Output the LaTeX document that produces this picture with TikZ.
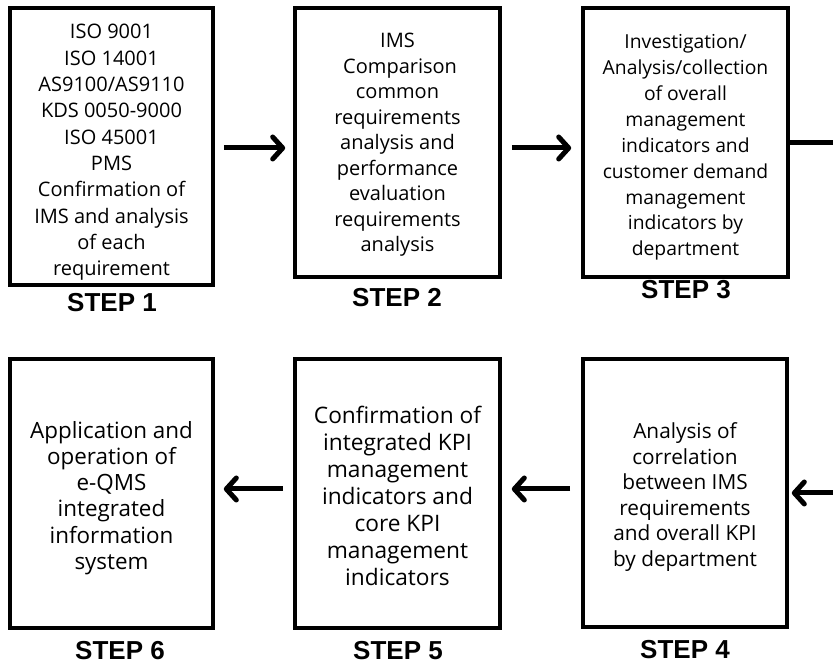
\documentclass[tikz,border=0pt]{standalone}
\usepackage{fontspec}
\setmainfont{Open Sans}
\newfontfamily\stepfont{Liberation Sans}
\usetikzlibrary{arrows.meta,calc}

\tikzset{
  stepbox/.style={draw=black, line width=3.6pt, rectangle, inner sep=0pt, fill=white},
  boxtext/.style={align=center, inner sep=0pt, text=black},
  steplabel/.style={font=\stepfont\bfseries\fontsize{26}{30}\selectfont, inner sep=0pt, text=black},
  flow/.style={line width=5pt, -{Straight Barb[length=10pt,width=22pt,round]}},
  link/.style={line width=5pt}
}

\begin{document}
\begin{tikzpicture}[x=1pt, y=1pt]
\useasboundingbox (0,0) rectangle (833,664);

% boxes of the six steps
\node[stepbox, minimum width=203pt, minimum height=277pt] (s1) at (111.5,517.5) {};
\node[stepbox, minimum width=205pt, minimum height=269pt] (s2) at (397.5,521.5) {};
\node[stepbox, minimum width=205pt, minimum height=269pt] (s3) at (685.5,521.5) {};
\node[stepbox, minimum width=204pt, minimum height=268pt] (s4) at (685,171) {};
\node[stepbox, minimum width=205pt, minimum height=269pt] (s5) at (397.5,170.5) {};
\node[stepbox, minimum width=203pt, minimum height=269pt] (s6) at (111.5,170.5) {};

% box contents
\node[boxtext, font=\fontsize{20}{26.3}\selectfont] (t1) at (111.5,511.5) {ISO 9001\\ISO 14001\\AS9100/AS9110\\KDS 0050-9000\\ISO 45001\\PMS\\Confirmation of\\IMS and analysis\\of each\\requirement};
\node[boxtext, font=\fontsize{20}{25.5}\selectfont] (t2) at (397.5,519) {IMS\\\ Comparison\\common\\requirements\\analysis and\\performance\\evaluation\\requirements\\analysis};
\node[boxtext, font=\fontsize{19.3}{25.9}\selectfont] (t3) at (685.5,516.5) {Investigation/\\Analysis/collection\\of overall\\management\\indicators and\\customer demand\\management\\indicators by\\department};
\node[boxtext, font=\fontsize{20.8}{25.6}\selectfont] (t4) at (685,167) {Analysis of\\correlation\\between IMS\\requirements\\and overall KPI\\by department};
\node[boxtext, font=\fontsize{22.7}{27}\selectfont] (t5) at (397.5,168) {Confirmation of\\integrated KPI\\management\\indicators and\\core KPI\\management\\indicators};
\node[boxtext, font=\fontsize{22.4}{26.2}\selectfont] (t6) at (111.5,166) {Application and\\operation of\\e-QMS\\integrated\\information\\system};

% step captions
\node[steplabel] (l1) at (112,361.5) {STEP 1};
\node[steplabel] (l2) at (397,366.5) {STEP 2};
\node[steplabel] (l3) at (686,374) {STEP 3};
\node[steplabel] (l4) at (685,14) {STEP 4};
\node[steplabel] (l5) at (398,13.5) {STEP 5};
\node[steplabel] (l6) at (120,13.5) {STEP 6};

% levels of the connectors
\coordinate (rowA) at (0,516);
\coordinate (rowB) at (0,175);
\coordinate (edgeTop) at (833,521.5);
\coordinate (edgeBot) at (833,171);

% connectors
\draw[flow, shorten <=9pt, shorten >=8pt] (s1.east |- rowA) -- (s2.west |- rowA);
\draw[flow, shorten <=10pt, shorten >=10pt] (s2.east |- rowA) -- (s3.west |- rowA);
\draw[link] (s3.east) -- (edgeTop);
\draw[flow, shorten >=3pt] (edgeBot) -- (s4.east);
\draw[flow, shorten <=11pt, shorten >=10pt] (s4.west |- rowB) -- (s5.east |- rowB);
\draw[flow, shorten <=10pt, shorten >=9pt] (s5.west |- rowB) -- (s6.east |- rowB);
\end{tikzpicture}
\end{document}
